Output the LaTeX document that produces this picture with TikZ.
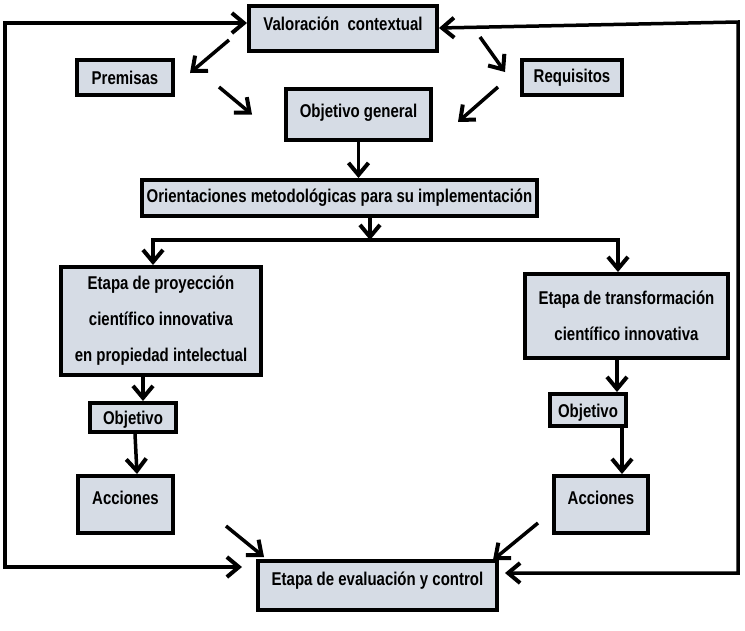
\documentclass[tikz,border=0pt]{standalone}
\usepackage{fontspec}
\setmainfont{Liberation Sans}[FakeStretch=0.81]
\usetikzlibrary{arrows.meta}
\definecolor{cajaFondo}{RGB}{214,220,229}
\colorlet{penColor}{black}
\tikzset{>={Straight Barb[length=12pt,width=20pt,line width=4pt]}}
\tikzset{
  caja/.style={draw=penColor, fill=cajaFondo, line width=4pt, align=center,
    inner sep=2pt, font=\fontsize{18.5}{36}\selectfont\bfseries},
  flecha/.style={->, penColor, line width=3.5pt},
  lazo/.style={<->, penColor, line width=3.5pt}
}

\begin{document}
\begin{tikzpicture}[x=1pt,y=-1pt]
		\useasboundingbox (0,0) rectangle (745,630);
		% cajas
		\node[caja, minimum width=188pt, minimum height=45pt, text depth=10pt] (valoracion) at (343,28.5) {Valoración\ \ contextual};
		\node[caja, minimum width=96pt, minimum height=35pt] (premisas) at (125,77.5) {Premisas};
		\node[caja, minimum width=100pt, minimum height=35pt] (requisitos) at (572,77.5) {Requisitos};
		\node[caja, minimum width=145pt, minimum height=51pt, text depth=8pt] (objgen) at (358.5,114.5) {Objetivo general};
		\node[caja, minimum width=395pt, minimum height=36pt] (orient) at (339.5,198) {Orientaciones metodológicas para su implementación};
		\node[caja, minimum width=200pt, minimum height=108pt] (proyeccion) at (161,321) {Etapa de proyección\\científico innovativa\\en propiedad intelectual};
		\node[caja, minimum width=203pt, minimum height=84pt] (transformacion) at (626.5,316) {Etapa de transformación\\científico innovativa};
		\node[caja, minimum width=86pt, minimum height=29pt, text height=18pt] (objizq) at (133,417.5) {Objetivo};
		\node[caja, minimum width=76pt, minimum height=32pt, text height=18pt] (objder) at (588,410) {Objetivo};
		\node[caja, minimum width=95pt, minimum height=57pt, text height=13pt, text depth=13pt] (accizq) at (125.5,504.5) {Acciones};
		\node[caja, minimum width=94pt, minimum height=57pt, text height=13pt, text depth=13pt] (accder) at (601,504.5) {Acciones};
		\node[caja, minimum width=239pt, minimum height=49pt, text depth=14pt] (evaluacion) at (377.5,585.5) {Etapa de evaluación y control};
		% lazos exteriores
		\coordinate (esqSI) at (5,23);
		\coordinate (esqII) at (5,567);
		\coordinate (esqSD) at (738,22);
		\coordinate (esqID) at (738,573);
		\draw[lazo] ([yshift=5.5pt]valoracion.west) -- (esqSI) -- (esqII) -- ([xshift=-14pt,yshift=18.5pt]evaluacion.west);
		\draw[lazo] ([yshift=0.5pt]valoracion.east) -- (esqSD) -- (esqID) -- ([xshift=6pt,yshift=12.5pt]evaluacion.east);
		% parte superior
		\draw[flecha] ([xshift=-18pt,yshift=13pt]valoracion.south west) -- ([xshift=15pt,yshift=-15pt]premisas.north east);
		\draw[flecha] ([xshift=41pt,yshift=16pt]valoracion.south east) -- ([xshift=-15pt,yshift=-14pt]requisitos.north west);
		\draw[flecha] ([xshift=44pt,yshift=10pt]premisas.south east) -- ([xshift=-32pt]objgen.west);
		\draw[flecha] ([xshift=-22pt,yshift=10pt]requisitos.south west) -- ([xshift=25pt,yshift=-7.5pt]objgen.east);
		\draw[flecha] (objgen.south) -- (objgen.south |- orient.north);
		% reparto
		\coordinate (bus) at (370,240);
		\coordinate (busI) at (153,240);
		\coordinate (busD) at (618,240);
		\draw[flecha] (orient.south -| bus) -- (bus);
		\draw[lazo] (busI |- proyeccion.north) -- (busI) -- (busD) -- (busD |- transformacion.north);
		% columnas
		\draw[flecha] ([xshift=-18pt]proyeccion.south) -- ([xshift=10pt]objizq.north);
		\draw[flecha] ([xshift=2pt]objizq.south) -- ([xshift=11.5pt]accizq.north);
		\draw[flecha] ([xshift=-9.5pt]transformacion.south) -- ([xshift=29pt]objder.north);
		\draw[flecha] ([xshift=34pt]objder.south) -- ([xshift=21pt]accder.north);
		% hacia la evaluacion
		\draw[flecha] ([xshift=51pt,yshift=9pt]accizq.south east) -- ([xshift=8pt,yshift=2pt]evaluacion.north west);
		\draw[flecha] ([xshift=-14pt,yshift=12pt]accder.south west) -- ([xshift=-6pt,yshift=-1pt]evaluacion.north east);
\end{tikzpicture}
\end{document}
